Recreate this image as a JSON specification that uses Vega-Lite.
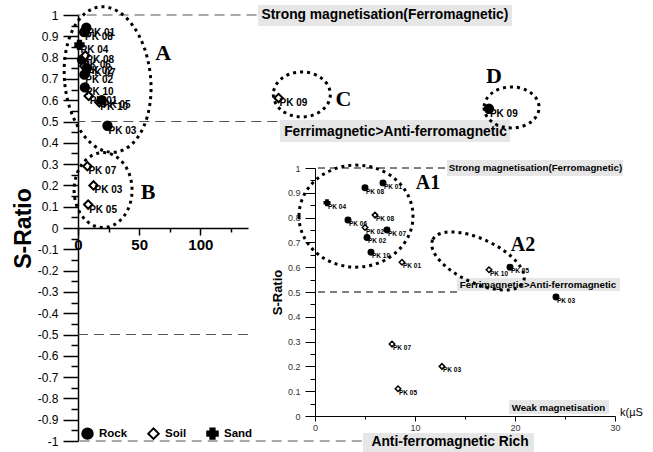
{
  "$schema": "https://vega.github.io/schema/vega-lite/v6.json",
  "width": 573,
  "height": 426,
  "autosize": "none",
  "padding": {"left": 78, "top": 15, "right": 2, "bottom": 11},
  "config": {"view": {"stroke": null}, "font": "Liberation Sans", "axis": {"grid": false}},
  "datasets": {
    "samples": [
      {"sample": "PK 01", "type": "Rock", "k": 6.8, "s": 0.94},
      {"sample": "PK 08", "type": "Rock", "k": 5.0, "s": 0.92},
      {"sample": "PK 04", "type": "Sand", "k": 1.2, "s": 0.86},
      {"sample": "PK 06", "type": "Rock", "k": 3.3, "s": 0.79},
      {"sample": "PK 08", "type": "Soil", "k": 6.0, "s": 0.81},
      {"sample": "PK 02", "type": "Soil", "k": 5.0, "s": 0.76},
      {"sample": "PK 07", "type": "Rock", "k": 7.2, "s": 0.75},
      {"sample": "PK 02", "type": "Rock", "k": 5.2, "s": 0.72},
      {"sample": "PK 10", "type": "Rock", "k": 5.6, "s": 0.66},
      {"sample": "PK 01", "type": "Soil", "k": 8.7, "s": 0.62},
      {"sample": "PK 10", "type": "Soil", "k": 17.4, "s": 0.59},
      {"sample": "PK 05", "type": "Rock", "k": 19.5, "s": 0.60},
      {"sample": "PK 03", "type": "Rock", "k": 24.1, "s": 0.48},
      {"sample": "PK 07", "type": "Soil", "k": 7.7, "s": 0.29},
      {"sample": "PK 03", "type": "Soil", "k": 12.7, "s": 0.20},
      {"sample": "PK 05", "type": "Soil", "k": 8.3, "s": 0.11},
      {"sample": "PK 09", "type": "Soil", "k": 164, "s": 0.61},
      {"sample": "PK 09", "type": "Rock", "k": 336, "s": 0.56}
    ],
    "mainRefs": [
      {"level": 1, "end": 146},
      {"level": 0.5, "end": 163},
      {"level": -0.5, "end": 139},
      {"level": -1, "end": 232}
    ],
    "mainBoxes": [
      {"label": "Strong magnetisation(Ferromagnetic)", "x1": 147.2, "x2": 354.9, "y1": 0.948, "y2": 1.047, "tx": 251, "ty": 1.0},
      {"label": "Ferrimagnetic>Anti-ferromagnetic", "x1": 165.2, "x2": 353.2, "y1": 0.404, "y2": 0.507, "tx": 259.6, "ty": 0.453},
      {"label": "Anti-ferromagnetic Rich", "x1": 233, "x2": 372.8, "y1": -1.07, "y2": -0.962, "tx": 304.2, "ty": -1.005}
    ],
    "mainLetters": [
      {"label": "A", "x": 69.7, "y": 0.82},
      {"label": "B", "x": 57.4, "y": 0.169},
      {"label": "C", "x": 217, "y": 0.606},
      {"label": "D", "x": 340, "y": 0.714}
    ],
    "insetRefs": [
      {"level": 1, "end": 13.0},
      {"level": 0.5, "end": 14.2}
    ],
    "insetBoxes": [
      {"label": "Strong magnetisation(Ferromagnetic)", "x1": 13.2, "x2": 30.8, "y1": 0.968, "y2": 1.032, "tx": 22.05, "ty": 1.0},
      {"label": "Ferrimagnetic>Anti-ferromagnetic", "x1": 14.2, "x2": 30.5, "y1": 0.504, "y2": 0.556, "tx": 22.3, "ty": 0.527},
      {"label": "Weak magnetisation", "x1": 19.4, "x2": 29.4, "y1": 0.008, "y2": 0.065, "tx": 24.35, "ty": 0.034}
    ],
    "insetLetters": [
      {"label": "A1", "x": 11.3, "y": 0.94},
      {"label": "A2", "x": 20.8, "y": 0.69}
    ],
    "insetUnit": [
      {"label": "k(µS", "x": 30, "y": 0}
    ]
  },
  "layer": [
    {
      "data": {"name": "mainRefs"},
      "mark": {"type": "rule", "strokeDash": [10, 6], "color": "#555", "strokeWidth": 1.2},
      "encoding": {
        "x": {"field": "end", "type": "quantitative", "scale": {"domain": [0, 139], "range": [0, 170], "nice": false, "zero": false}, "axis": null},
        "x2": {"datum": 0},
        "y": {"field": "level", "type": "quantitative", "scale": {"domain": [-1, 1], "nice": false, "zero": false}, "axis": null}
      }
    },
    {
      "data": {"name": "mainBoxes"},
      "mark": {"type": "rect", "color": "#e6e6e6"},
      "encoding": {
        "x": {"field": "x1", "type": "quantitative", "scale": {"domain": [0, 139], "range": [0, 170], "nice": false, "zero": false}, "axis": null},
        "x2": {"field": "x2"},
        "y": {"field": "y1", "type": "quantitative", "scale": {"domain": [-1, 1], "nice": false, "zero": false}, "axis": null},
        "y2": {"field": "y2"}
      }
    },
    {
      "data": {"name": "mainBoxes"},
      "mark": {"type": "text", "fontSize": 13.8, "fontWeight": "bold", "color": "black", "align": "center", "baseline": "middle"},
      "encoding": {
        "x": {"field": "tx", "type": "quantitative", "scale": {"domain": [0, 139], "range": [0, 170], "nice": false, "zero": false}, "axis": null},
        "y": {"field": "ty", "type": "quantitative", "scale": {"domain": [-1, 1], "nice": false, "zero": false}, "axis": null},
        "text": {"field": "label", "type": "nominal"}
      }
    },
    {
      "data": {"values": [{"cx": 24.2, "cy": 0.697}]},
      "mark": {"type": "point", "shape": "M -0.589,0 A 0.589,1 0 1,0 0.589,0 A 0.589,1 0 1,0 -0.589,0 Z", "size": 21316, "angle": -6, "filled": false, "stroke": "black", "strokeWidth": 3, "strokeDash": [3, 4], "opacity": 1},
      "encoding": {
        "x": {"field": "cx", "type": "quantitative", "scale": {"domain": [0, 139], "range": [0, 170], "nice": false, "zero": false}, "axis": null},
        "y": {"field": "cy", "type": "quantitative", "scale": {"domain": [-1, 1], "nice": false, "zero": false}, "axis": null}
      }
    },
    {
      "data": {"values": [{"cx": 20.5, "cy": 0.178}]},
      "mark": {"type": "point", "shape": "M -0.773,0 A 0.773,1 0 1,0 0.773,0 A 0.773,1 0 1,0 -0.773,0 Z", "size": 5625, "filled": false, "stroke": "black", "strokeWidth": 3, "strokeDash": [3, 4], "opacity": 1},
      "encoding": {
        "x": {"field": "cx", "type": "quantitative", "scale": {"domain": [0, 139], "range": [0, 170], "nice": false, "zero": false}, "axis": null},
        "y": {"field": "cy", "type": "quantitative", "scale": {"domain": [-1, 1], "nice": false, "zero": false}, "axis": null}
      }
    },
    {
      "data": {"values": [{"cx": 183, "cy": 0.627}]},
      "mark": {"type": "point", "shape": "M -1,0 A 1,0.789 0 1,0 1,0 A 1,0.789 0 1,0 -1,0 Z", "size": 3249, "filled": false, "stroke": "black", "strokeWidth": 3, "strokeDash": [3, 4], "opacity": 1},
      "encoding": {
        "x": {"field": "cx", "type": "quantitative", "scale": {"domain": [0, 139], "range": [0, 170], "nice": false, "zero": false}, "axis": null},
        "y": {"field": "cy", "type": "quantitative", "scale": {"domain": [-1, 1], "nice": false, "zero": false}, "axis": null}
      }
    },
    {
      "data": {"values": [{"cx": 354.5, "cy": 0.566}]},
      "mark": {"type": "point", "shape": "M -1,0 A 1,0.745 0 1,0 1,0 A 1,0.745 0 1,0 -1,0 Z", "size": 3025, "filled": false, "stroke": "black", "strokeWidth": 3, "strokeDash": [3, 4], "opacity": 1},
      "encoding": {
        "x": {"field": "cx", "type": "quantitative", "scale": {"domain": [0, 139], "range": [0, 170], "nice": false, "zero": false}, "axis": null},
        "y": {"field": "cy", "type": "quantitative", "scale": {"domain": [-1, 1], "nice": false, "zero": false}, "axis": null}
      }
    },
    {
      "data": {"name": "mainLetters"},
      "mark": {"type": "text", "font": "Liberation Serif", "fontSize": 22, "fontWeight": "bold", "color": "black", "align": "center", "baseline": "middle"},
      "encoding": {
        "x": {"field": "x", "type": "quantitative", "scale": {"domain": [0, 139], "range": [0, 170], "nice": false, "zero": false}, "axis": null},
        "y": {"field": "y", "type": "quantitative", "scale": {"domain": [-1, 1], "nice": false, "zero": false}, "axis": null},
        "text": {"field": "label", "type": "nominal"}
      }
    },
    {
      "data": {"name": "samples"},
      "mark": {"type": "point", "filled": true, "strokeWidth": 2, "size": 70, "opacity": 1},
      "encoding": {
        "x": {"field": "k", "type": "quantitative", "scale": {"domain": [0, 139], "range": [0, 170], "nice": false, "zero": false},
          "axis": {"orient": "bottom", "offset": -213, "values": [0, 50, 100], "title": null,
            "labelFontSize": 15, "labelFontWeight": "bold", "labelColor": "black",
            "labelFlush": false, "labelOverlap": false, "labelPadding": 2,
            "tickSize": 7, "tickWidth": 1.5, "tickColor": "black", "domainColor": "black", "domainWidth": 1.5}},
        "y": {"field": "s", "type": "quantitative", "scale": {"domain": [-1, 1], "nice": false, "zero": false},
          "axis": {"orient": "left",
            "values": [-1, -0.9, -0.8, -0.7, -0.6, -0.5, -0.4, -0.3, -0.2, -0.1, 0, 0.1, 0.2, 0.3, 0.4, 0.5, 0.6, 0.7, 0.8, 0.9, 1],
            "title": "S-Ratio", "titleFontSize": 23, "titleFontWeight": "bold", "titleColor": "black", "titlePadding": 2,
            "labelExpr": "'' + round(datum.value*10)/10",
            "labelFontSize": 12, "labelColor": "black", "labelPadding": 5, "labelFlush": false, "labelOverlap": false,
            "tickSize": 15, "tickWidth": 1.5, "tickColor": "black", "domainColor": "black", "domainWidth": 1.5}},
        "shape": {"field": "type", "type": "nominal", "scale": {"domain": ["Rock", "Soil", "Sand"], "range": ["circle", "diamond", "cross"]},
          "legend": {"orient": "none", "legendX": 3, "legendY": 412, "direction": "horizontal", "title": null, "labelFontSize": 11.5, "labelFontWeight": "bold", "labelColor": "black",
            "symbolSize": 110, "symbolStrokeWidth": 2, "columnPadding": 16, "labelOffset": 5, "padding": 0}},
        "fill": {"field": "type", "type": "nominal", "scale": {"domain": ["Rock", "Soil", "Sand"], "range": ["black", "white", "black"]}},
        "stroke": {"field": "type", "type": "nominal", "scale": {"domain": ["Rock", "Soil", "Sand"], "range": ["black", "black", "black"]}}
      }
    },
    {
      "data": {"name": "samples"},
      "mark": {"type": "text", "fontSize": 10, "fontWeight": "bold", "color": "black", "align": "left", "baseline": "middle", "dx": 1, "dy": 5},
      "encoding": {
        "x": {"field": "k", "type": "quantitative", "scale": {"domain": [0, 139], "range": [0, 170], "nice": false, "zero": false},
          "axis": {"orient": "bottom", "offset": -213, "values": [25, 75, 125], "title": null, "labels": false, "domain": false,
            "tickSize": 4, "tickWidth": 1.5, "tickColor": "black"}},
        "y": {"field": "s", "type": "quantitative", "scale": {"domain": [-1, 1], "nice": false, "zero": false},
          "axis": {"orient": "left", "title": null, "labels": false, "domain": false,
            "values": [-0.95, -0.85, -0.75, -0.65, -0.55, -0.45, -0.35, -0.25, -0.15, -0.05, 0.05, 0.15, 0.25, 0.35, 0.45, 0.55, 0.65, 0.75, 0.85, 0.95],
            "tickSize": 7, "tickWidth": 1.5, "tickColor": "black"}},
        "text": {"field": "sample", "type": "nominal"}
      }
    },
    {
      "data": {"name": "insetRefs"},
      "mark": {"type": "rule", "strokeDash": [7, 5], "color": "black", "strokeWidth": 1},
      "encoding": {
        "x": {"field": "end", "type": "quantitative", "scale": {"domain": [0, 30], "range": [237, 537], "nice": false, "zero": false}, "axis": null},
        "x2": {"datum": 0},
        "y": {"field": "level", "type": "quantitative", "scale": {"domain": [0, 1], "range": [401, 153], "nice": false, "zero": false}, "axis": null}
      }
    },
    {
      "data": {"name": "insetBoxes"},
      "mark": {"type": "rect", "color": "#e6e6e6"},
      "encoding": {
        "x": {"field": "x1", "type": "quantitative", "scale": {"domain": [0, 30], "range": [237, 537], "nice": false, "zero": false}, "axis": null},
        "x2": {"field": "x2"},
        "y": {"field": "y1", "type": "quantitative", "scale": {"domain": [0, 1], "range": [401, 153], "nice": false, "zero": false}, "axis": null},
        "y2": {"field": "y2"}
      }
    },
    {
      "data": {"name": "insetBoxes"},
      "mark": {"type": "text", "fontSize": 9.7, "fontWeight": "bold", "color": "black", "align": "center", "baseline": "middle"},
      "encoding": {
        "x": {"field": "tx", "type": "quantitative", "scale": {"domain": [0, 30], "range": [237, 537], "nice": false, "zero": false}, "axis": null},
        "y": {"field": "ty", "type": "quantitative", "scale": {"domain": [0, 1], "range": [401, 153], "nice": false, "zero": false}, "axis": null},
        "text": {"field": "label", "type": "nominal"}
      }
    },
    {
      "data": {"name": "insetUnit"},
      "mark": {"type": "text", "fontSize": 11, "color": "black", "align": "left", "baseline": "middle", "dx": 5, "dy": -3},
      "encoding": {
        "x": {"field": "x", "type": "quantitative", "scale": {"domain": [0, 30], "range": [237, 537], "nice": false, "zero": false}, "axis": null},
        "y": {"field": "y", "type": "quantitative", "scale": {"domain": [0, 1], "range": [401, 153], "nice": false, "zero": false}, "axis": null},
        "text": {"field": "label", "type": "nominal"}
      }
    },
    {
      "data": {"values": [{"cx": 4.1, "cy": 0.806}]},
      "mark": {"type": "point", "shape": "M -1,0 A 1,0.895 0 1,0 1,0 A 1,0.895 0 1,0 -1,0 Z", "size": 12996, "filled": false, "stroke": "black", "strokeWidth": 3, "strokeDash": [3, 4], "opacity": 1},
      "encoding": {
        "x": {"field": "cx", "type": "quantitative", "scale": {"domain": [0, 30], "range": [237, 537], "nice": false, "zero": false}, "axis": null},
        "y": {"field": "cy", "type": "quantitative", "scale": {"domain": [0, 1], "range": [401, 153], "nice": false, "zero": false}, "axis": null}
      }
    },
    {
      "data": {"values": [{"cx": 16.3, "cy": 0.625}]},
      "mark": {"type": "point", "shape": "M -1,0 A 1,0.44 0 1,0 1,0 A 1,0.44 0 1,0 -1,0 Z", "size": 10000, "angle": 25, "filled": false, "stroke": "black", "strokeWidth": 3, "strokeDash": [3, 4], "opacity": 1},
      "encoding": {
        "x": {"field": "cx", "type": "quantitative", "scale": {"domain": [0, 30], "range": [237, 537], "nice": false, "zero": false}, "axis": null},
        "y": {"field": "cy", "type": "quantitative", "scale": {"domain": [0, 1], "range": [401, 153], "nice": false, "zero": false}, "axis": null}
      }
    },
    {
      "data": {"name": "insetLetters"},
      "mark": {"type": "text", "font": "Liberation Serif", "fontSize": 20, "fontWeight": "bold", "color": "black", "align": "center", "baseline": "middle"},
      "encoding": {
        "x": {"field": "x", "type": "quantitative", "scale": {"domain": [0, 30], "range": [237, 537], "nice": false, "zero": false}, "axis": null},
        "y": {"field": "y", "type": "quantitative", "scale": {"domain": [0, 1], "range": [401, 153], "nice": false, "zero": false}, "axis": null},
        "text": {"field": "label", "type": "nominal"}
      }
    },
    {
      "data": {"name": "samples"},
      "transform": [{"filter": "datum.k <= 30"}],
      "mark": {"type": "point", "filled": true, "stroke": "black", "strokeWidth": 1.5, "size": 30, "opacity": 1},
      "encoding": {
        "x": {"field": "k", "type": "quantitative", "scale": {"domain": [0, 30], "range": [237, 537], "nice": false, "zero": false},
          "axis": {"orient": "bottom", "offset": -25, "values": [0, 10, 20, 30], "title": null,
            "labelFontSize": 9, "labelColor": "#333",
            "labelFlush": false, "labelOverlap": false, "labelPadding": 2,
            "tickSize": 5, "tickWidth": 1, "tickColor": "black", "domainColor": "black", "domainWidth": 1}},
        "y": {"field": "s", "type": "quantitative", "scale": {"domain": [0, 1], "range": [401, 153], "nice": false, "zero": false},
          "axis": {"orient": "left", "offset": -237,
            "values": [0, 0.1, 0.2, 0.3, 0.4, 0.5, 0.6, 0.7, 0.8, 0.9, 1],
            "title": "S-Ratio", "titleFontSize": 13, "titleFontWeight": "bold", "titleColor": "black", "titlePadding": 3,
            "labelExpr": "'' + round(datum.value*10)/10",
            "labelFontSize": 9, "labelColor": "#333", "labelPadding": 5, "labelFlush": false, "labelOverlap": false,
            "tickSize": 10, "tickWidth": 1, "tickColor": "black", "domainColor": "black", "domainWidth": 1}},
        "shape": {"field": "type", "type": "nominal", "scale": {"domain": ["Rock", "Soil", "Sand"], "range": ["circle", "diamond", "cross"]}, "legend": null},
        "fill": {"field": "type", "type": "nominal", "scale": {"domain": ["Rock", "Soil", "Sand"], "range": ["black", "white", "black"]}, "legend": null}
      }
    },
    {
      "data": {"name": "samples"},
      "transform": [{"filter": "datum.k <= 30"}],
      "mark": {"type": "text", "fontSize": 6.5, "fontWeight": "bold", "color": "black", "align": "left", "baseline": "middle", "dx": 1, "dy": 4},
      "encoding": {
        "x": {"field": "k", "type": "quantitative", "scale": {"domain": [0, 30], "range": [237, 537], "nice": false, "zero": false},
          "axis": {"orient": "bottom", "offset": -25, "values": [5, 15, 25], "title": null, "labels": false, "domain": false,
            "tickSize": 3, "tickWidth": 1, "tickColor": "black"}},
        "y": {"field": "s", "type": "quantitative", "scale": {"domain": [0, 1], "range": [401, 153], "nice": false, "zero": false},
          "axis": {"orient": "left", "offset": -237, "title": null, "labels": false, "domain": false,
            "values": [0.05, 0.15, 0.25, 0.35, 0.45, 0.55, 0.65, 0.75, 0.85, 0.95],
            "tickSize": 5, "tickWidth": 1, "tickColor": "black"}},
        "text": {"field": "sample", "type": "nominal"}
      }
    }
  ],
  "resolve": {
    "scale": {"x": "independent", "y": "independent", "shape": "independent", "fill": "independent", "stroke": "independent"},
    "axis": {"x": "independent", "y": "independent"}
  }
}
